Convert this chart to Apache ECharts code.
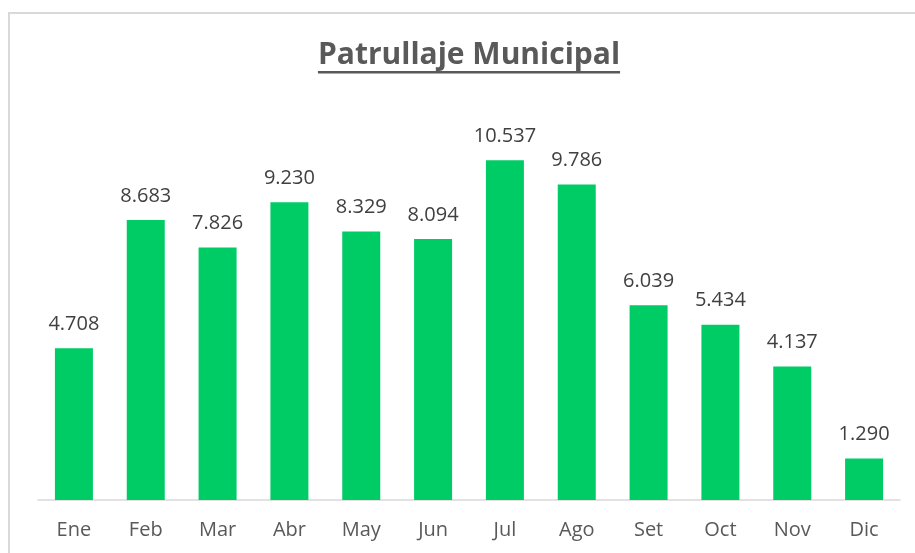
<!DOCTYPE html>
<html>
<head>
<meta charset="utf-8">
<script src="https://cdn.jsdelivr.net/npm/echarts@6/dist/echarts.min.js"></script>
<style>
    html, body { margin: 0; padding: 0; background: #fff; }
    #chart { width: 915px; height: 553px; }
</style>
</head>
<body>
<div id="chart"></div>
<script>
// datos del gráfico
const titulo = 'Patrullaje Municipal';
const meses = ['Ene', 'Feb', 'Mar', 'Abr', 'May', 'Jun', 'Jul', 'Ago', 'Set', 'Oct', 'Nov', 'Dic'];
const patrullajes = [4708, 8683, 7826, 9230, 8329, 8094, 10537, 9786, 6039, 5434, 4137, 1290];

// separador de miles con punto (formato es-PE)
function fmtMiles(v) {
    return String(v).replace(/\B(?=(\d{3})+(?!\d))/g, '.');
}

const titleFont = 'bold 30px "Open Sans"';
const ctx = document.createElement('canvas').getContext('2d');
ctx.font = titleFont;
const titleW = ctx.measureText(titulo).width;
const titleX = 469;

const chart = echarts.init(document.getElementById('chart'));

chart.setOption({
    animation: false,
    grid: { left: 38, right: 15, top: 113, bottom: 53 },
    xAxis: {
        type: 'category',
        data: meses,
        axisTick: { show: false },
        axisLine: { lineStyle: { color: '#d9d9d9', width: 1.5 } },
        axisLabel: {
            color: '#595959',
            fontFamily: 'Open Sans',
            fontSize: 20,
            margin: 20
        }
    },
    yAxis: {
        type: 'value',
        min: 0, max: 12000,
        show: false,
        splitLine: { show: false }
    },
    series: [{
        type: 'bar',
        data: patrullajes,
        barWidth: 38,
        itemStyle: { color: '#00cc66' },
        label: {
            show: true,
            position: 'top',
            distance: 14,
            color: '#404040',
            fontFamily: 'Open Sans',
            fontSize: 20,
            formatter: (p) => fmtMiles(p.value)
        }
    }],
    graphic: [
        {
            type: 'rect',
            silent: true,
            shape: { x: 9, y: 13, width: 930, height: 560 },
            style: { fill: 'none', stroke: '#d9d9d9', lineWidth: 2 }
        },
        {
            type: 'text',
            x: titleX,
            y: 55,
            style: {
                text: titulo,
                font: titleFont,
                fill: '#595959',
                align: 'center',
                verticalAlign: 'middle'
            }
        },
        {
            // subrayado del título
            type: 'rect',
            shape: { x: titleX - titleW / 2, y: 71, width: titleW, height: 2.5 },
            style: { fill: '#595959' }
        }
    ]
});
</script>
</body>
</html>
